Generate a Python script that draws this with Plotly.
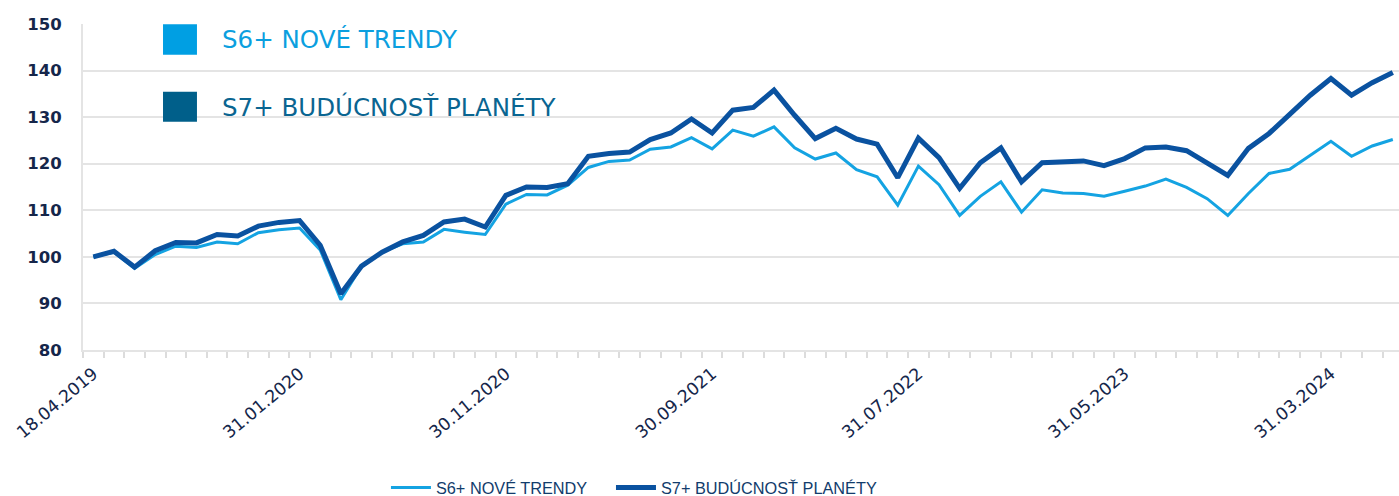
import plotly.graph_objects as go

# ---- data ----
dates = (["18.04.2019"] +
         ["30.04.2019", "31.05.2019", "30.06.2019", "31.07.2019", "31.08.2019", "30.09.2019",
          "31.10.2019", "30.11.2019", "31.12.2019",
          "31.01.2020", "29.02.2020", "31.03.2020", "30.04.2020", "31.05.2020", "30.06.2020",
          "31.07.2020", "31.08.2020", "30.09.2020", "31.10.2020", "30.11.2020", "31.12.2020",
          "31.01.2021", "28.02.2021", "31.03.2021", "30.04.2021", "31.05.2021", "30.06.2021",
          "31.07.2021", "31.08.2021", "30.09.2021", "31.10.2021", "30.11.2021", "31.12.2021",
          "31.01.2022", "28.02.2022", "31.03.2022", "30.04.2022", "31.05.2022", "30.06.2022",
          "31.07.2022", "31.08.2022", "30.09.2022", "31.10.2022", "30.11.2022", "31.12.2022",
          "31.01.2023", "28.02.2023", "31.03.2023", "30.04.2023", "31.05.2023", "30.06.2023",
          "31.07.2023", "31.08.2023", "30.09.2023", "31.10.2023", "30.11.2023", "31.12.2023",
          "31.01.2024", "29.02.2024", "31.03.2024", "30.04.2024", "31.05.2024", "30.06.2024"])

s6_values = [100.0, 101.0, 97.5, 100.5, 102.3, 102.0, 103.2, 102.8, 105.2, 105.8,
             106.2, 101.5, 90.8, 98.0, 101.0, 102.8, 103.2, 105.9, 105.3, 104.8,
             111.3, 113.4, 113.3, 115.4, 119.2, 120.5, 120.8, 123.1, 123.6, 125.6,
             123.2, 127.2, 125.9, 127.9, 123.4, 121.0, 122.3, 118.7, 117.2, 111.1,
             119.5, 115.5, 108.9, 113.0, 116.1, 109.6, 114.4, 113.7, 113.6, 113.0,
             114.1, 115.2, 116.7, 114.9, 112.5, 108.9, 113.6, 117.9, 118.8, 121.8,
             124.8, 121.6, 123.8, 125.2]

s7_values = [100.0, 101.2, 97.8, 101.3, 103.1, 103.0, 104.8, 104.5, 106.6, 107.4,
             107.8, 102.5, 92.1, 98.0, 101.0, 103.2, 104.6, 107.5, 108.1, 106.4,
             113.2, 115.0, 114.9, 115.7, 121.6, 122.2, 122.5, 125.2, 126.6, 129.6,
             126.6, 131.5, 132.1, 135.8, 130.4, 125.4, 127.6, 125.3, 124.2, 117.0,
             125.5, 121.3, 114.7, 120.2, 123.4, 116.1, 120.2, 120.3, 120.6, 119.6,
             121.1, 123.4, 123.6, 122.8, 120.2, 117.5, 123.3, 126.5, 130.6, 134.7,
             138.3, 134.7, 137.4, 139.6]

tick_idx = [0, 10, 20, 30, 40, 50, 60]
tick_labels = [dates[i] for i in tick_idx]
y_ticks = [80, 90, 100, 110, 120, 130, 140, 150]

names = ["S6+ NOVÉ TRENDY", "S7+ BUDÚCNOSŤ PLANÉTY"]
x = list(range(len(dates)))

LIGHT = "#14a3e2"
DARK = "#0a52a0"
NAVY = "#15264a"
GRID = "#e4e4e4"

fig = go.Figure()
fig.add_trace(go.Scatter(x=x, y=s6_values, mode="lines", name=names[0], legend="legend",
                         line=dict(color=LIGHT, width=3), customdata=dates))
fig.add_trace(go.Scatter(x=x, y=s7_values, mode="lines", name=names[1], legend="legend2",
                         line=dict(color=DARK, width=5), customdata=dates))

legend_font = dict(family="Liberation Sans, Arial", size=16.3, color="#123c6c")

fig.update_layout(
    width=1399, height=496,
    margin=dict(l=83, r=0, t=24, b=146, autoexpand=False),
    plot_bgcolor="white", paper_bgcolor="white",
    showlegend=True,
    legend=dict(orientation="h", x=0.2302, xanchor="left", y=-0.423, yanchor="middle",
                font=legend_font, itemwidth=40),
    legend2=dict(orientation="h", x=0.4012, xanchor="left", y=-0.423, yanchor="middle",
                 font=legend_font, itemwidth=40),
    xaxis=dict(
        range=[-0.5, 63.3], showgrid=False, zeroline=False,
        tickmode="array", tickvals=tick_idx, ticktext=tick_labels,
        tickangle=-40, ticks="", ticklabelstandoff=5,
        tickfont=dict(family="DejaVu Sans", size=17.3, color=NAVY),
        showline=True, linecolor=GRID, linewidth=2,
        minor=dict(tick0=-0.5, dtick=1, ticks="outside", ticklen=6,
                   tickcolor="#dcdcdc", tickwidth=1.5, showgrid=False),
    ),
    yaxis=dict(
        range=[80, 150], tickmode="array", tickvals=y_ticks,
        showgrid=True, gridcolor=GRID, gridwidth=2, zeroline=False,
        showline=True, linecolor=GRID, linewidth=2,
        ticks="", ticklabelstandoff=16,
        tickfont=dict(family="DejaVu Sans", size=16.5, color=NAVY, weight="bold"),
    ),
)

# decorative legend box in the upper-left
box_specs = [("#009fe3", 0.999, 0.906, 0.951, names[0], "#0b9fdf"),
             ("#005f8a", 0.792, 0.700, 0.745, names[1], "#0a6591")]
for color, y1, y0, yt, text, tcolor in box_specs:
    fig.add_shape(type="rect", xref="paper", yref="paper",
                  x0=0.0608, x1=0.0866, y0=y0, y1=y1,
                  fillcolor=color, line=dict(width=0), layer="above")
    fig.add_annotation(xref="paper", yref="paper", x=0.1041, y=yt,
                       xanchor="left", yanchor="middle", showarrow=False,
                       text=text, font=dict(family="DejaVu Sans", size=24.5, color=tcolor))

fig.write_html("out.html", config={"displayModeBar": False},
               post_script="document.body.style.margin='0';document.body.style.overflow='hidden';")
